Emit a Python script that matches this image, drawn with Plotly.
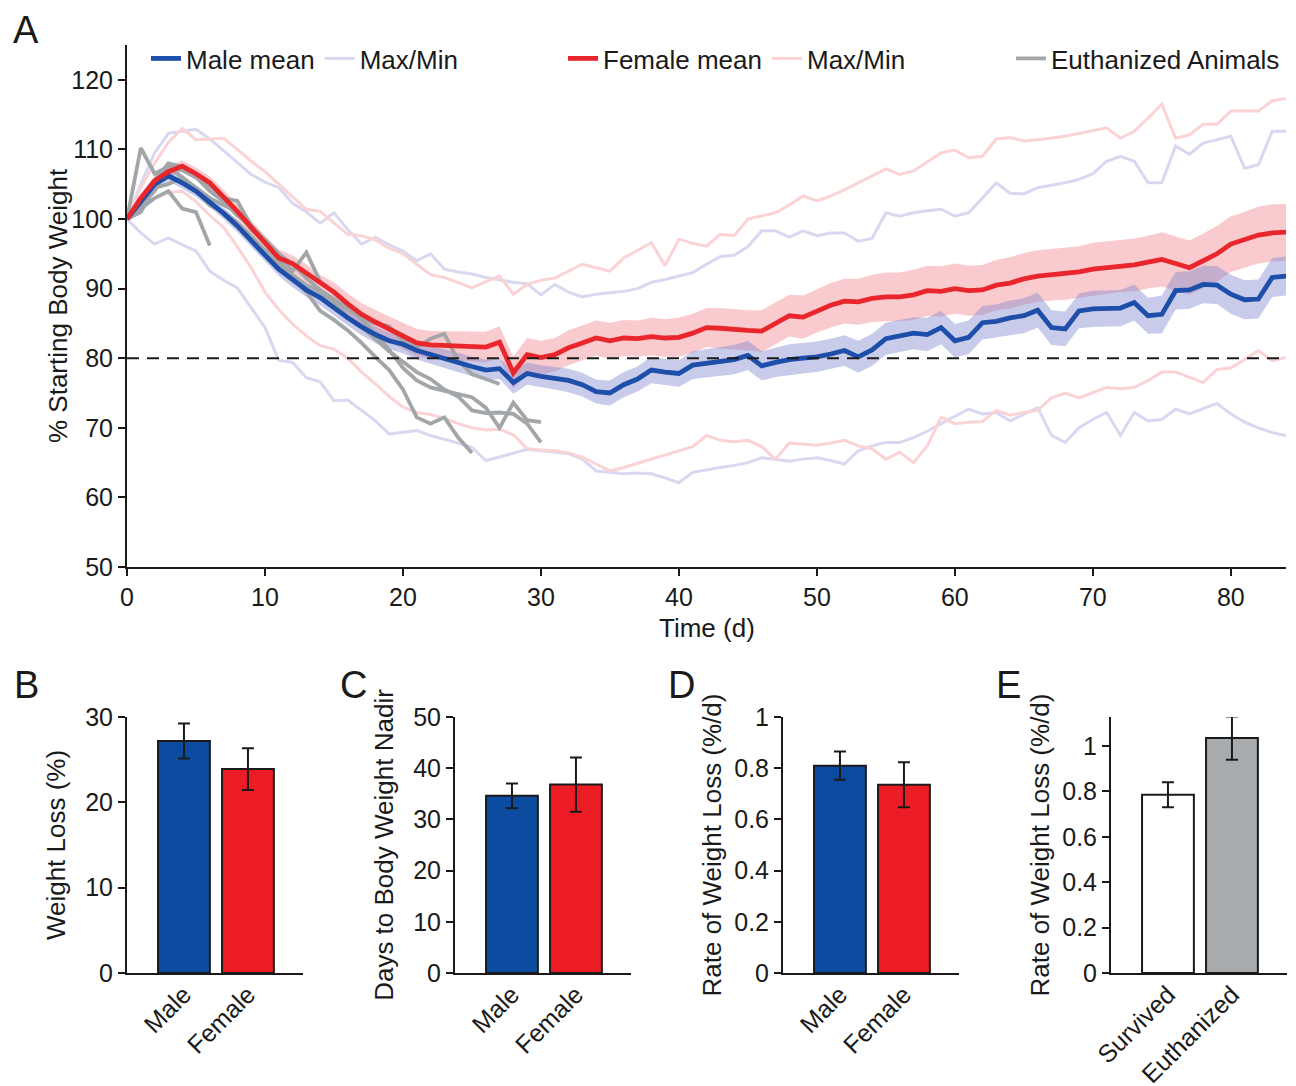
import plotly.graph_objects as go

W, H = 1296, 1086
OFF = 8  # page body margin offset
def px(x): return (x - OFF) / W
def py(y): return 1 - (y - OFF) / H

FONT = "Liberation Sans, Arial, sans-serif"
INK = "#1a1a1a"

# ---------------- Panel A data (days 0..84) ----------------
days = list(range(85))
male_mean = [100, 102.5, 105, 106.2, 105.2, 104, 102.5, 100.8, 99, 96.8,
             94.8, 92.8, 91.2, 89.8, 88.7, 87.2, 85.8, 84.5, 83.4, 82.5,
             82, 81.1, 80.5, 79.9, 79.4, 78.8, 78.3, 78.5, 76.5, 77.8,
             77.4, 77.1, 76.8, 76.2, 75.2, 75.0, 76.2, 77.0, 78.3, 78.0,
             77.8, 79.0, 79.3, 79.5, 79.8, 80.4, 78.9, 79.4, 79.8, 80.0,
             80.2, 80.6, 81.1, 80.2, 81.2, 82.8, 83.2, 83.6, 83.4, 84.4,
             82.5, 83.0, 85.1, 85.3, 85.8, 86.1, 86.9, 84.4, 84.2, 86.8,
             87.1, 87.2, 87.2, 88.0, 86.1, 86.3, 89.7, 89.8, 90.6, 90.5,
             89.2, 88.4, 88.5, 91.6, 91.8]
female_mean = [100, 103, 105.5, 106.8, 107.6, 106.5, 105.2, 103.2, 101.1, 98.8,
               96.5, 94.4, 93.6, 92.2, 90.7, 89.5, 87.8, 86.3, 85.2, 84.2,
               83.2, 82.2, 81.9, 81.8, 81.8, 81.7, 81.6, 82.3, 77.9, 80.5,
               80.1, 80.5, 81.5, 82.2, 82.9, 82.5, 82.9, 82.8, 83.1, 82.9,
               83.0, 83.6, 84.4, 84.3, 84.1, 84.0, 83.9, 85.0, 86.1, 85.9,
               86.8, 87.6, 88.2, 88.1, 88.6, 88.8, 88.8, 89.1, 89.7, 89.6,
               90.0, 89.7, 89.8, 90.5, 90.8, 91.4, 91.8, 92.0, 92.1, 92.4,
               92.8, 93.0, 93.3, 93.4, 93.8, 94.2, 93.6, 93.0, 94.0, 95.0,
               96.4, 97.0, 97.7, 98.0, 98.1]
male_sem = [0.2, 0.6, 0.7, 0.8, 0.8, 0.8, 0.8, 0.8, 0.9, 0.9,
            0.9, 1.0, 1.0, 1.0, 1.1, 1.1, 1.1, 1.2, 1.2, 1.2,
            1.3, 1.3, 1.3, 1.4, 1.4, 1.4, 1.5, 1.5, 1.6, 1.6,
            1.6, 1.6, 1.7, 1.7, 1.7, 1.8, 1.8, 1.8, 1.9, 1.9,
            1.9, 2.0, 2.0, 2.0, 2.1, 2.1, 2.1, 2.1, 2.2, 2.2,
            2.2, 2.2, 2.2, 2.3, 2.3, 2.3, 2.3, 2.3, 2.4, 2.4,
            2.4, 2.4, 2.4, 2.4, 2.5, 2.5, 2.5, 2.5, 2.5, 2.5,
            2.6, 2.6, 2.6, 2.6, 2.6, 2.7, 2.7, 2.7, 2.7, 2.7,
            2.8, 2.8, 2.8, 2.8, 2.8]
female_sem = [0.2, 0.6, 0.7, 0.8, 0.8, 0.9, 0.9, 1.0, 1.0, 1.1,
              1.1, 1.2, 1.2, 1.3, 1.3, 1.4, 1.5, 1.6, 1.7, 1.8,
              1.9, 2.0, 2.0, 2.1, 2.1, 2.2, 2.2, 2.3, 2.3, 2.4,
              2.4, 2.4, 2.5, 2.5, 2.5, 2.6, 2.6, 2.6, 2.7, 2.7,
              2.8, 2.8, 2.8, 2.9, 2.9, 2.9, 3.0, 3.0, 3.0, 3.1,
              3.1, 3.2, 3.2, 3.3, 3.4, 3.5, 3.5, 3.6, 3.6, 3.6,
              3.6, 3.6, 3.6, 3.6, 3.7, 3.7, 3.7, 3.7, 3.7, 3.7,
              3.8, 3.8, 3.8, 3.8, 3.8, 3.9, 3.9, 3.9, 3.9, 4.0,
              4.0, 4.0, 4.1, 4.1, 4.1]
male_max = [100, 105, 109.5, 112.3, 112.6, 112.9, 111.5, 109.8, 108, 106.4,
            105.3, 104.5, 102.3, 101, 99.4, 100.9, 98.5, 96.4, 97.4, 96.3,
            95.4, 94.0, 95.0, 92.8, 92.4, 92.1, 91.6, 91.2, 90.9, 90.7,
            89.1, 90.6, 89.5, 88.8, 89.2, 89.4, 89.6, 90.0, 90.9, 91.3,
            91.8, 92.3, 93.5, 94.6, 94.8, 96.0, 98.3, 98.3, 97.4, 98.3,
            97.6, 98.0, 98.0, 96.8, 97.2, 100.9, 100.4, 100.9, 101.2, 101.4,
            100.4, 100.9, 103.0, 105.2, 103.7, 103.6, 104.5, 104.8, 105.2, 105.7,
            106.5, 108.3, 109.0, 108.3, 105.2, 105.2, 110.5, 109.3, 110.9, 111.4,
            111.9, 107.3, 107.8, 112.6, 112.6]
male_min = [100, 98, 96.4, 97.3, 96.3, 95.4, 92.5, 91.2, 90.1, 87.2,
            84.4, 79.7, 79.4, 77.2, 76.6, 73.9, 74.0, 72.5, 71.0, 69.1,
            69.4, 69.6, 68.9, 68.4, 67.8, 67.2, 65.3, 65.8, 66.3, 66.9,
            66.7, 66.5, 66.3, 65.5, 63.8, 63.6, 63.4, 63.5, 63.4, 62.8,
            62.1, 63.6, 64.0, 64.3, 64.6, 65.0, 65.7, 65.5, 65.2, 65.5,
            65.7, 65.3, 64.8, 66.7, 67.4, 67.9, 67.9, 68.6, 69.5, 70.6,
            71.6, 72.7, 72.0, 72.2, 71.0, 72.0, 72.9, 68.9, 67.9, 70.0,
            71.2, 72.2, 68.9, 72.2, 71.0, 71.2, 72.7, 72.0, 72.8, 73.5,
            72.0, 70.8, 70.0, 69.3, 68.9]
female_max = [100, 104.5, 108, 111, 113, 111.4, 111.5, 111.6, 110, 108.3,
              106.8, 105, 103.2, 101.4, 101.1, 99.5, 97.8, 97.6, 97.0, 95.8,
              95.0, 93.5, 92.0, 91.6, 90.8, 90.1, 91.0, 91.8, 89.2, 90.6,
              91.2, 91.5, 92.5, 93.5, 93.0, 92.5, 94.4, 95.5, 96.6, 93.3,
              97.1, 96.5, 96.1, 97.8, 97.6, 100.0, 100.5, 100.9, 102.0, 103.3,
              102.6, 103.3, 104.2, 105.2, 106.2, 107.2, 106.4, 106.9, 108.2, 109.5,
              109.9, 108.8, 109.0, 111.5, 111.7, 111.2, 111.4, 111.6, 111.9, 112.3,
              112.7, 113.1, 111.6, 112.6, 114.5, 116.5, 111.6, 112.1, 113.6, 113.6,
              115.5, 115.5, 115.5, 117.0, 117.3]
female_min = [100, 102, 103, 103.8, 104, 102.5, 100.5, 98.8, 96, 93,
              89.5, 87, 84.9, 83.2, 81.8, 81.3, 80.0, 78.0, 76.3, 74.5,
              73.0, 72.2, 71.9, 71.4, 70.6, 70.0, 69.7, 69.8, 69.0, 67.0,
              66.8, 66.7, 66.4, 65.8, 64.8, 63.8, 64.3, 64.9, 65.4, 66.0,
              66.7, 67.3, 68.9, 68.2, 68.0, 68.2, 67.3, 65.5, 67.8, 67.6,
              67.5, 67.8, 68.2, 67.4, 67.0, 65.5, 66.5, 65.0, 67.4, 71.5,
              70.6, 70.8, 70.9, 72.5, 71.8, 72.2, 72.5, 74.3, 75.0, 74.3,
              75.0, 75.8, 75.6, 75.8, 76.8, 78.0, 78.0, 77.3, 76.5, 78.4,
              78.6, 79.8, 81.1, 79.6, 80.1]

# Euthanized animals (each starts at day 0)
euth_1 = [100, 101.5, 103, 104, 101.5, 101, 96.2]
euth_2 = [100, 110.2, 106.5, 107.5, 106, 104, 102, 101, 99.5, 97.5,
          95.5, 93.5, 91.5, 89.5, 86.8, 85.5, 84, 82.2, 80.2, 78.3,
          75.5, 71.5, 70.6, 71.5, 68.6, 66.4]
euth_3 = [100, 101, 104.5, 105, 106, 104.5, 103, 102, 101, 98.5,
          96.5, 94, 92, 90.5, 89.5, 88, 86, 84.5, 82.8, 81,
          79.5, 78, 77, 75.5, 74.5, 72.5, 72.1, 72.2, 72, 70.6, 67.9]
euth_4 = [100, 102, 104, 107.5, 107, 106, 104.8, 103, 102.6, 99,
          97, 95, 92.5, 95.2, 91, 89.5, 87.5, 85.5, 83.5, 81.2,
          78.6, 76.8, 75.8, 75.3, 74.9, 74.4, 72.9, 70, 73.6, 71.1, 70.8]
euth_5 = [100, 103, 105.5, 108, 107.5, 106, 104, 102.5, 100.5, 99,
          97, 95, 93.5, 91.5, 89.8, 88.5, 87, 85.8, 85, 84.6,
          82.5, 81.5, 82.8, 83.5, 79.7, 77.7, 77, 76.3]
euthanized = [euth_1, euth_2, euth_3, euth_4, euth_5]
THRESHOLD = 80

# ---------------- Panels B-E data ----------------
sex_labels = ["Male", "Female"]
outcome_labels = ["Survived", "Euthanized"]
loss_pct = [27.2, 23.9]
loss_pct_err = [2.05, 2.45]
nadir_days = [34.6, 36.8]
nadir_days_err = [2.4, 5.3]
rate_sex = [0.81, 0.735]
rate_sex_err = [0.055, 0.088]
rate_outcome = [0.785, 1.035]
rate_outcome_err = [0.055, 0.095]

BLUE = "#1d4eaa"
RED = "#e8262b"
LAV = "#d9d8f0"
PINK = "#fcd3d5"
GRAY = "#a3a6a8"
BAR_BLUE = "#0b4ca0"
BAR_RED = "#ec1c24"
BAR_GRAY = "#a7abae"

fig = go.Figure()

def band(mean, sem, color):
    up = [m + s for m, s in zip(mean, sem)]
    lo = [m - s for m, s in zip(mean, sem)]
    return go.Scatter(x=days + days[::-1], y=up + lo[::-1], fill="toself",
                      fillcolor=color, line=dict(width=0), mode="lines",
                      showlegend=False, hoverinfo="skip")

fig.add_trace(band(female_mean, female_sem, "rgba(240,110,120,0.36)"))
fig.add_trace(band(male_mean, male_sem, "rgba(125,130,205,0.42)"))

fig.add_trace(go.Scatter(x=days, y=male_max, mode="lines", line=dict(color=LAV, width=3),
                         name="Max/Min", legend="legend", legendrank=2))
fig.add_trace(go.Scatter(x=days, y=male_min, mode="lines", line=dict(color=LAV, width=3),
                         showlegend=False))
fig.add_trace(go.Scatter(x=days, y=female_max, mode="lines", line=dict(color=PINK, width=3),
                         name="Max/Min", legend="legend2", legendrank=2))
fig.add_trace(go.Scatter(x=days, y=female_min, mode="lines", line=dict(color=PINK, width=3),
                         showlegend=False))
for i, e in enumerate(euthanized):
    fig.add_trace(go.Scatter(x=days[:len(e)], y=e, mode="lines",
                             line=dict(color=GRAY, width=3.8),
                             name="Euthanized Animals", legend="legend3",
                             showlegend=(i == 0)))
fig.add_trace(go.Scatter(x=days, y=male_mean, mode="lines", line=dict(color=BLUE, width=4.8),
                         name="Male mean", legend="legend", legendrank=1))
fig.add_trace(go.Scatter(x=days, y=female_mean, mode="lines", line=dict(color=RED, width=4.8),
                         name="Female mean", legend="legend2", legendrank=1))

fig.add_shape(type="line", xref="x", yref="y", x0=days[0], x1=days[-1],
              y0=THRESHOLD, y1=THRESHOLD, layer="above",
              line=dict(color=INK, width=2, dash="12px,8px"))

# ---------------- Bars ----------------
def bars(ax, vals, errs, colors):
    fig.add_trace(go.Bar(x=[0, 1], y=vals, width=0.81, marker=dict(color=colors,
                         line=dict(color=INK, width=2)),
                         error_y=dict(type="data", array=errs, color=INK, thickness=2, width=6),
                         xaxis="x" + ax, yaxis="y" + ax, showlegend=False))

bars("2", loss_pct, loss_pct_err, [BAR_BLUE, BAR_RED])
bars("3", nadir_days, nadir_days_err, [BAR_BLUE, BAR_RED])
bars("4", rate_sex, rate_sex_err, [BAR_BLUE, BAR_RED])
bars("5", rate_outcome, rate_outcome_err, ["#ffffff", BAR_GRAY])

tick_font = dict(family=FONT, size=25, color=INK)
title_font = dict(family=FONT, size=26, color=INK)

axis_common = dict(showline=True, linecolor=INK, linewidth=2, showgrid=False,
                   zeroline=False, tickfont=tick_font, ticks="outside",
                   ticklen=7, tickwidth=2, tickcolor=INK, automargin=False)

layout = dict(
    width=W, height=H, plot_bgcolor="white", paper_bgcolor="white",
    margin=dict(l=0, r=0, t=0, b=0, pad=0, autoexpand=False),
    font=dict(family=FONT, color=INK),
    xaxis=dict(domain=[px(127), px(1286)], range=[0, 84], tickvals=list(range(0, 81, 10)),
               anchor="y", **axis_common),
    yaxis=dict(domain=[py(567), py(45)], range=[50, 125], tickvals=list(range(50, 121, 10)),
               anchor="x", **axis_common),
)

bar_panels = [("2", 127, [0, 30], [0, 10, 20, 30], "Weight Loss (%)", sex_labels, 12),
              ("3", 455, [0, 50], [0, 10, 20, 30, 40, 50], "Days to Body Weight Nadir", sex_labels, 12),
              ("4", 783, [0, 1], [0, 0.2, 0.4, 0.6, 0.8, 1], "Rate of Weight Loss (%/d)", sex_labels, 5),
              ("5", 1111, [0, 1.128], [0, 0.2, 0.4, 0.6, 0.8, 1], "Rate of Weight Loss (%/d)", outcome_labels, 5)]
for ax, left, yr, yt, ytitle, labels, so in bar_panels:
    xa = dict(axis_common)
    xa.update(ticks="", domain=[px(left), px(left + 176)], range=[-0.89, 1.86],
              tickvals=[0, 1], ticktext=labels, tickangle=-45, anchor="y" + ax,
              ticklabelstandoff=-5)
    ya = dict(axis_common)
    ya.update(domain=[py(973), py(717)], range=yr, tickvals=yt, anchor="x" + ax,
              title=dict(text=ytitle, font=title_font, standoff=so))
    layout["xaxis" + ax] = xa
    layout["yaxis" + ax] = ya

leg_common = dict(orientation="h", xanchor="left", yanchor="top", y=py(35),
                  font=dict(family=FONT, size=26, color=INK), bgcolor="rgba(0,0,0,0)",
                  itemwidth=30, traceorder="normal")
layout["legend"] = dict(x=px(146), **leg_common)
layout["legend2"] = dict(x=px(563), **leg_common)
layout["legend3"] = dict(x=px(1011), **leg_common)

annotations = []
# main-panel axis titles
annotations.append(dict(text="% Starting Body Weight", x=px(58), y=py(306), xref="paper", yref="paper",
                        textangle=-90, showarrow=False, xanchor="center", yanchor="middle",
                        font=title_font))
annotations.append(dict(text="Time (d)", x=px(707), y=py(612), xref="paper", yref="paper",
                        showarrow=False, xanchor="center", yanchor="top", borderpad=0,
                        font=title_font))
# panel letters
annotations.append(dict(text="A", x=px(26), y=1, xref="paper", yref="paper", showarrow=False,
                        xanchor="center", yanchor="top", borderpad=0,
                        font=dict(family=FONT, size=38, color=INK)))
for t, x, y in [("B", 26, 685), ("C", 353, 685), ("D", 681, 685), ("E", 1008, 685)]:
    annotations.append(dict(text=t, x=px(x), y=py(y), xref="paper", yref="paper",
                            showarrow=False, xanchor="center", yanchor="middle",
                            font=dict(family=FONT, size=38, color=INK)))
layout["annotations"] = annotations

fig.update_layout(**layout)
fig.write_html("out.html")
